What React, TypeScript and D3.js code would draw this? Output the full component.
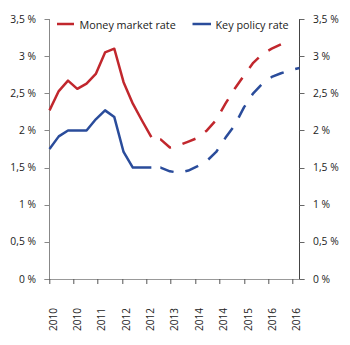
import React from "react";
import * as d3 from "d3";

const quarters = [
  "2010Q1","2010Q2","2010Q3","2010Q4","2011Q1","2011Q2","2011Q3","2011Q4",
  "2012Q1","2012Q2","2012Q3","2012Q4","2013Q1","2013Q2","2013Q3","2013Q4",
  "2014Q1","2014Q2","2014Q3","2014Q4","2015Q1","2015Q2","2015Q3","2015Q4",
  "2016Q1","2016Q2","2016Q3","2016Q4",
];
const moneyMarketRate = [
  2.27, 2.53, 2.67, 2.56, 2.63, 2.76, 3.05, 3.10, 2.65, 2.36, 2.13, 1.91,
  1.88, 1.77, 1.80, 1.85, 1.90, 2.00, 2.14, 2.36, 2.56, 2.74, 2.91, 3.03,
  3.10, 3.16, 3.20,
];
const keyPolicyRate = [
  1.75, 1.92, 2.0, 2.0, 2.0, 2.15, 2.27, 2.18, 1.71, 1.50, 1.50, 1.50,
  1.50, 1.45, 1.43, 1.46, 1.52, 1.59, 1.71, 1.90, 2.07, 2.31, 2.50, 2.63,
  2.72, 2.77, 2.81, 2.84,
];
const lastActual = 11; // index of last historical quarter (solid line)
const yTicks = [0, 0.5, 1, 1.5, 2, 2.5, 3, 3.5];
const xTickLabels = ["2010","2010","2011","2012","2012","2013","2014","2014","2015","2016","2016"];
const xTickMonthStep = 8;
const seriesNames = ["Money market rate", "Key policy rate"];

const RED = "#c1272d";
const BLUE = "#2a4c9b";
const FONT = "'Open Sans', 'Noto Sans', sans-serif";

export default function App() {
  const left = 49.5, right = 299.5, top = 19, bottom = 279;
  const x = d3.scaleLinear().domain([0, quarters.length - 1]).range([left, right]);
  const xMonth = d3.scaleLinear().domain([0, 82]).range([left, right]);
  const y = d3.scaleLinear().domain([0, 3.5]).range([bottom, top]);
  const line = d3.line<number>().x((_, i) => x(i)).y((d) => y(d));
  const lineOff = (off: number) => d3.line<number>().x((_, i) => x(i + off)).y((d) => y(d));

  const series = [
    { name: seriesNames[0], values: moneyMarketRate, color: RED },
    { name: seriesNames[1], values: keyPolicyRate, color: BLUE },
  ];

  return (
    <svg width={350} height={345} style={{ position: "absolute", left: 0, top: 0, background: "#fff" }} fontFamily={FONT}>
      {/* axes */}
      <line x1={left} x2={left} y1={top} y2={bottom} stroke="#888" strokeWidth={1} />
      <line x1={right} x2={right} y1={top} y2={bottom} stroke="#444" strokeWidth={1} />
      <line x1={left - 5} x2={right + 5} y1={bottom + 0.5} y2={bottom + 0.5} stroke="#999" strokeWidth={1} />
      {yTicks.map((t) => (
        <g key={"y" + t}>
          <line x1={left - 5} x2={left} y1={Math.round(y(t)) + 0.5} y2={Math.round(y(t)) + 0.5} stroke="#888" />
          <line x1={right} x2={right + 5} y1={Math.round(y(t)) + 0.5} y2={Math.round(y(t)) + 0.5} stroke="#666" />
          <text x={36} y={y(t)} dy="0.35em" textAnchor="end" fontSize={10.3} fill="#222">
            {String(t).replace(".", ",")} %
          </text>
          <text x={313} y={y(t)} dy="0.35em" textAnchor="start" fontSize={10.3} fill="#222">
            {String(t).replace(".", ",")} %
          </text>
        </g>
      ))}
      {xTickLabels.map((lab, i) => {
        const xp = Math.round(xMonth(i * xTickMonthStep)) - 0.2;
        return (
          <g key={"x" + i}>
            <line x1={xp} x2={xp} y1={bottom} y2={bottom + 5} stroke="#555" />
            <text transform={`translate(${xp + 7.5},308) rotate(-90)`} textAnchor="end" fontSize={10} fill="#222">
              {lab}
            </text>
          </g>
        );
      })}
      {/* lines */}
      {series.map((s) => (
        <g key={s.name}>
          <path d={line(s.values.slice(0, lastActual + 1)) || ""} fill="none" stroke={s.color} strokeWidth={2.5} strokeLinejoin="round" />
          <path
            d={lineOff(lastActual)(s.values.slice(lastActual)) || ""}
            fill="none"
            stroke={s.color}
            strokeWidth={2.5}
            strokeLinejoin="round"
            strokeDasharray="14 12"
            strokeDashoffset={17}
          />
        </g>
      ))}
      {/* legend */}
      <line x1={57} x2={74} y1={24} y2={24} stroke={RED} strokeWidth={2.5} />
      <text x={79.5} y={28.5} fontSize={10.8} fill="#222">{seriesNames[0]}</text>
      <line x1={192.5} x2={211} y1={24} y2={24} stroke={BLUE} strokeWidth={2.5} />
      <text x={215.5} y={28.5} fontSize={10.8} fill="#222">{seriesNames[1]}</text>
    </svg>
  );
}
